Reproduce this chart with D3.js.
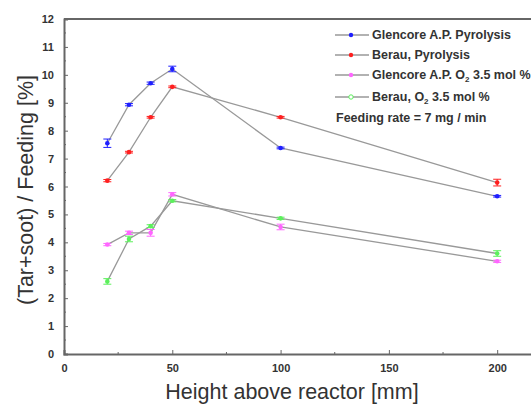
<!DOCTYPE html>
<html>
<head>
<meta charset="utf-8">
<script src="https://cdn.jsdelivr.net/npm/d3@7"></script>
<style>
  body { margin: 0; background: #fff; }
  svg { display: block; font-family: "Liberation Sans", Arial, sans-serif; }
</style>
</head>
<body>
<div id="vis"></div>
<script>
// Chart frame
const FRAME_WIDTH = 531;
const FRAME_HEIGHT = 404;

// Data
const HEIGHTS = [20, 30, 40, 50, 100, 200];
const GLENCORE_PYRO = [7.55, 8.93, 9.70, 10.21, 7.38, 5.65];
const GLENCORE_PYRO_ERR = [0.15, 0.04, 0.04, 0.1, 0.03, 0.03];
const BERAU_PYRO = [6.21, 7.23, 8.48, 9.57, 8.48, 6.14];
const BERAU_PYRO_ERR = [0.04, 0.03, 0.03, 0.03, 0.03, 0.12];
const GLENCORE_O2 = [3.92, 4.34, 4.34, 5.72, 4.55, 3.32];
const GLENCORE_O2_ERR = [0.04, 0.06, 0.12, 0.06, 0.1, 0.04];
const BERAU_O2 = [2.6, 4.12, 4.58, 5.49, 4.86, 3.6];
const BERAU_O2_ERR = [0.1, 0.1, 0.05, 0.04, 0.04, 0.1];

const SERIES_NAMES = ["Glencore A.P. Pyrolysis", "Berau, Pyrolysis", "Glencore A.P. O2 3.5 mol %", "Berau, O2 3.5 mol %"];
const SERIES_COLORS = ["#1f1fff", "#ff1f1f", "#ff66ff", "#5cf05c"];

const X_TICKS = [0, 50, 100, 150, 200];
const Y_TICKS = [0, 1, 2, 3, 4, 5, 6, 7, 8, 9, 10, 11, 12];

const SERIES = [
  {vals: GLENCORE_PYRO, err: GLENCORE_PYRO_ERR},
  {vals: BERAU_PYRO, err: BERAU_PYRO_ERR},
  {vals: GLENCORE_O2, err: GLENCORE_O2_ERR},
  {vals: BERAU_O2, err: BERAU_O2_ERR}
];

const FRAME = d3.select("#vis")
                .append("svg")
                .attr("width", FRAME_WIDTH)
                .attr("height", FRAME_HEIGHT);

// Scales (right edge of the plot is cropped off in the picture)
const X_SCALE = d3.scaleLinear().domain([0, 220]).range([64, 540.5]);
const Y_SCALE = d3.scaleLinear().domain([0, 12]).range([354, 19]);

const AXIS_COLOR = "#666";

// Top frame line
FRAME.append("line")
     .attr("x1", X_SCALE(0)).attr("x2", FRAME_WIDTH)
     .attr("y1", Y_SCALE(12)).attr("y2", Y_SCALE(12))
     .attr("stroke", AXIS_COLOR).attr("stroke-width", 2);

// X axis
const xAxis = FRAME.append("g")
     .attr("transform", "translate(0," + Y_SCALE(0) + ")")
     .call(d3.axisBottom(X_SCALE).tickValues(X_TICKS).tickSize(-4).tickPadding(10));
xAxis.select(".domain").attr("stroke", AXIS_COLOR).attr("stroke-width", 2);
xAxis.selectAll(".tick line").attr("stroke", AXIS_COLOR);
xAxis.selectAll("text").attr("font-size", 11).attr("font-weight", "bold").attr("fill", "#333");

// X minor ticks
FRAME.append("g").selectAll("line")
     .data([25, 75, 125, 175])
     .enter().append("line")
     .attr("x1", (d) => X_SCALE(d)).attr("x2", (d) => X_SCALE(d))
     .attr("y1", Y_SCALE(0)).attr("y2", Y_SCALE(0) - 2)
     .attr("stroke", AXIS_COLOR);

// Y axis
const yAxis = FRAME.append("g")
     .attr("transform", "translate(" + X_SCALE(0) + ",0)")
     .call(d3.axisLeft(Y_SCALE).tickValues(Y_TICKS).tickSize(-4).tickPadding(10));
yAxis.select(".domain").attr("stroke", AXIS_COLOR).attr("stroke-width", 2);
yAxis.selectAll(".tick line").attr("stroke", AXIS_COLOR);
yAxis.selectAll("text").attr("font-size", 11).attr("font-weight", "bold").attr("fill", "#333");

// Y minor ticks
FRAME.append("g").selectAll("line")
     .data(d3.range(0.5, 12, 1))
     .enter().append("line")
     .attr("x1", X_SCALE(0)).attr("x2", X_SCALE(0) + 2)
     .attr("y1", (d) => Y_SCALE(d)).attr("y2", (d) => Y_SCALE(d))
     .attr("stroke", AXIS_COLOR);

// Axis titles
FRAME.append("text")
     .attr("x", 292).attr("y", 399)
     .attr("text-anchor", "middle")
     .attr("font-size", 21.5).attr("fill", "#333")
     .text("Height above reactor [mm]");

FRAME.append("text")
     .attr("transform", "translate(33,190) rotate(-90)")
     .attr("text-anchor", "middle")
     .attr("font-size", 21.5).attr("fill", "#333")
     .text("(Tar+soot) / Feeding [%]");

// Series lines, error bars and markers
const line = d3.line()
               .x((d) => X_SCALE(d.x))
               .y((d) => Y_SCALE(d.y));

SERIES.forEach((s, i) => {
  const pts = HEIGHTS.map((h, j) => ({x: h, y: s.vals[j], e: s.err[j]}));
  const color = SERIES_COLORS[i];
  const g = FRAME.append("g");

  g.append("path")
   .datum(pts)
   .attr("d", line)
   .attr("fill", "none")
   .attr("stroke", "#999")
   .attr("stroke-width", 1.3);

  // error bars
  const eb = g.selectAll(".eb").data(pts).enter().append("g");
  eb.append("line")
    .attr("x1", (d) => X_SCALE(d.x)).attr("x2", (d) => X_SCALE(d.x))
    .attr("y1", (d) => Y_SCALE(d.y - d.e)).attr("y2", (d) => Y_SCALE(d.y + d.e))
    .attr("stroke", color).attr("stroke-width", 1);
  eb.append("line")
    .attr("x1", (d) => X_SCALE(d.x) - 4).attr("x2", (d) => X_SCALE(d.x) + 4)
    .attr("y1", (d) => Y_SCALE(d.y + d.e)).attr("y2", (d) => Y_SCALE(d.y + d.e))
    .attr("stroke", color).attr("stroke-width", 1);
  eb.append("line")
    .attr("x1", (d) => X_SCALE(d.x) - 4).attr("x2", (d) => X_SCALE(d.x) + 4)
    .attr("y1", (d) => Y_SCALE(d.y - d.e)).attr("y2", (d) => Y_SCALE(d.y - d.e))
    .attr("stroke", color).attr("stroke-width", 1);

  g.selectAll("circle")
   .data(pts)
   .enter().append("circle")
   .attr("cx", (d) => X_SCALE(d.x))
   .attr("cy", (d) => Y_SCALE(d.y))
   .attr("r", 2.3)
   .attr("fill", color);
});

// Legend
const LEGEND_Y = [35, 55, 75, 97];
const legend = FRAME.append("g");
SERIES_NAMES.forEach((name, i) => {
  const y = LEGEND_Y[i];
  legend.append("line")
        .attr("x1", 335).attr("x2", 369)
        .attr("y1", y).attr("y2", y)
        .attr("stroke", "#999").attr("stroke-width", 1.3);
  legend.append("circle")
        .attr("cx", 351).attr("cy", y).attr("r", 2.2)
        .attr("fill", i === 3 ? "#fff" : SERIES_COLORS[i])
        .attr("stroke", SERIES_COLORS[i]).attr("stroke-width", i === 3 ? 1 : 0);
  const t = legend.append("text")
        .attr("x", 372).attr("y", y + 4)
        .attr("font-size", 12.5).attr("font-weight", "bold").attr("fill", "#333");
  if (i < 2) {
    t.text(name);
  } else {
    const parts = name.split("O2");
    t.append("tspan").text(parts[0] + "O");
    t.append("tspan").attr("font-size", 8).attr("dy", 3).text("2");
    t.append("tspan").attr("dy", -3).text(parts[1]);
  }
});
legend.append("text")
      .attr("x", 336).attr("y", 122)
      .attr("font-size", 12.5).attr("font-weight", "bold").attr("fill", "#333")
      .text("Feeding rate = 7 mg / min");
</script>
</body>
</html>
